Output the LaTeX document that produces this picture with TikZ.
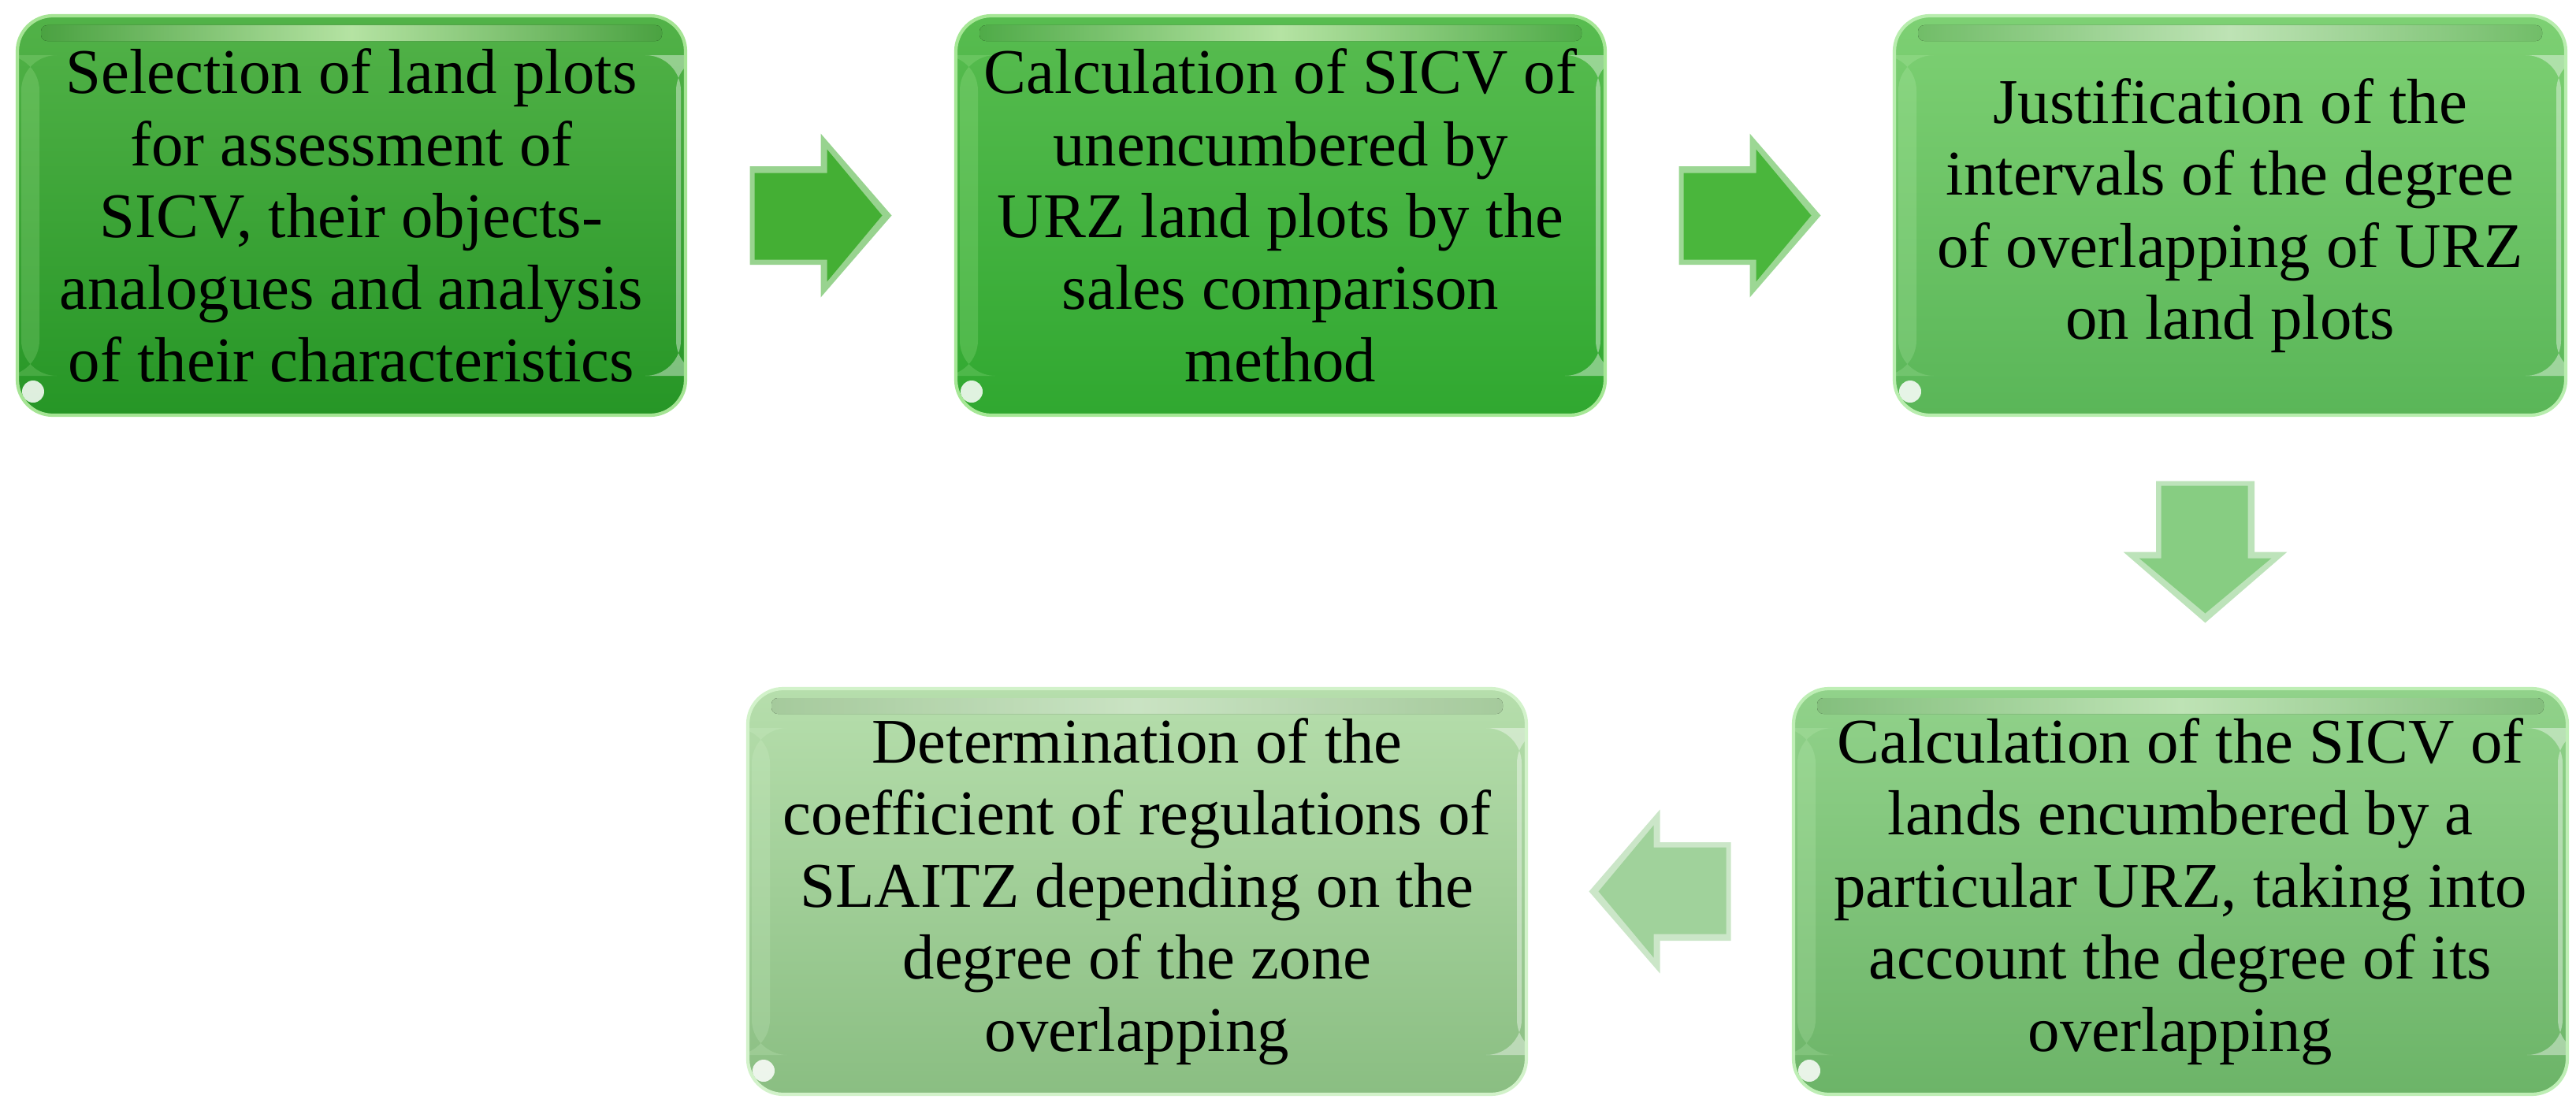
\documentclass[tikz,border=0pt]{standalone}
\usepackage{fontspec}
\setmainfont{Liberation Serif}
\usetikzlibrary{calc}

\definecolor{bOneT}{RGB}{82,178,72}
\definecolor{bOneB}{RGB}{38,150,38}
\definecolor{bTwoT}{RGB}{88,188,80}
\definecolor{bTwoB}{RGB}{48,168,48}
\definecolor{bThrT}{RGB}{125,208,115}
\definecolor{bThrB}{RGB}{90,182,88}
\definecolor{bFouT}{RGB}{145,210,138}
\definecolor{bFouB}{RGB}{108,180,104}
\definecolor{bFivT}{RGB}{182,222,172}
\definecolor{bFivB}{RGB}{138,190,130}
\definecolor{hlOne}{RGB}{200,250,180}
\definecolor{hlTwo}{RGB}{210,250,200}
\definecolor{hlThr}{RGB}{222,250,215}
\definecolor{aOne}{RGB}{68,175,52}
\definecolor{aTwo}{RGB}{74,182,60}
\definecolor{aThr}{RGB}{135,205,130}
\definecolor{aFou}{RGB}{160,210,155}

\tikzset{
  stepbox/.style n args={3}{
    rectangle, rounded corners=0.45cm, draw=#3!70!#1, line width=1.2pt,
    top color=#1, bottom color=#2, align=center, text=black,
    inner sep=0pt, font=\fontsize{23}{26}\selectfont,
    path picture={
      \fill[#3, opacity=0.18]
        ([xshift=0.05cm,yshift=-0.5cm]path picture bounding box.north west)
        rectangle ([xshift=0.28cm,yshift=0.5cm]path picture bounding box.south west);
      \fill[white, opacity=0.4]
        ([xshift=-0.12cm,yshift=-0.5cm]path picture bounding box.north east)
        rectangle ([xshift=-0.06cm,yshift=0.5cm]path picture bounding box.south east);
      \fill[left color=#1, right color=#1, middle color=#3, opacity=0.9, rounded corners=0.08cm]
        ([xshift=0.3cm,yshift=-0.12cm]path picture bounding box.north west)
        rectangle ([xshift=-0.3cm,yshift=-0.32cm]path picture bounding box.north east);
      \fill[white, opacity=0.85]
        ([xshift=0.2cm,yshift=0.3cm]path picture bounding box.south west) circle (0.14cm);
    }
  },
  pics/blockarr/.style={code={
    \fill[#1!55!white] (-0.9,0.625) -- (0,0.625) -- (0,1.04) -- (0.9,0) -- (0,-1.04) -- (0,-0.625) -- (-0.9,-0.625) -- cycle;
    \fill[#1] (-0.84,0.54) -- (0.08,0.54) -- (0.08,0.84) -- (0.78,0) -- (0.08,-0.84) -- (0.08,-0.56) -- (-0.84,-0.56) -- cycle;
  }}
}

\begin{document}
\begin{tikzpicture}
\useasboundingbox (0,0) rectangle (32.69,-14);

\node[stepbox={bOneT}{bOneB}{hlOne}, minimum width=8.48cm, minimum height=5.07cm] (b1) at (4.46,-2.735)
  {Selection of land plots\\for assessment of\\SICV, their objects-\\analogues and analysis\\of their characteristics};
\node[stepbox={bTwoT}{bTwoB}{hlOne}, minimum width=8.24cm, minimum height=5.07cm] (b2) at (16.25,-2.735)
  {Calculation of SICV of\\unencumbered by\\URZ land plots by the\\sales comparison\\method};
\node[stepbox={bThrT}{bThrB}{hlTwo}, minimum width=8.52cm, minimum height=5.07cm] (b3) at (28.30,-2.735)
  {Justification of the\\intervals of the degree\\of overlapping of URZ\\on land plots};
\node[stepbox={bFouT}{bFouB}{hlTwo}, minimum width=9.82cm, minimum height=5.15cm] (b4) at (27.67,-11.315)
  {Calculation of the SICV of\\lands encumbered by a\\particular URZ, taking into\\account the degree of its\\overlapping};
\node[stepbox={bFivT}{bFivB}{hlThr}, minimum width=9.88cm, minimum height=5.15cm] (b5) at (14.43,-11.315)
  {Determination of the\\coefficient of regulations of\\SLAITZ depending on the\\degree of the zone\\overlapping};

\coordinate (r1) at ($(b1.east)!0.5!(b2.west)$);
\coordinate (r2) at ($(b2.east)!0.5!(b3.west)$);
\coordinate (r3) at ($(b3.south)!0.5!(b4.north)$);
\coordinate (r4) at ($(b5.east)!0.5!(b4.west)$);
\pic at (r1) {blockarr=aOne};
\pic at (r2) {blockarr=aTwo};
\pic[rotate=-90] at (r3) {blockarr=aThr};
\pic[rotate=180] at (r4) {blockarr=aFou};
\end{tikzpicture}
\end{document}
